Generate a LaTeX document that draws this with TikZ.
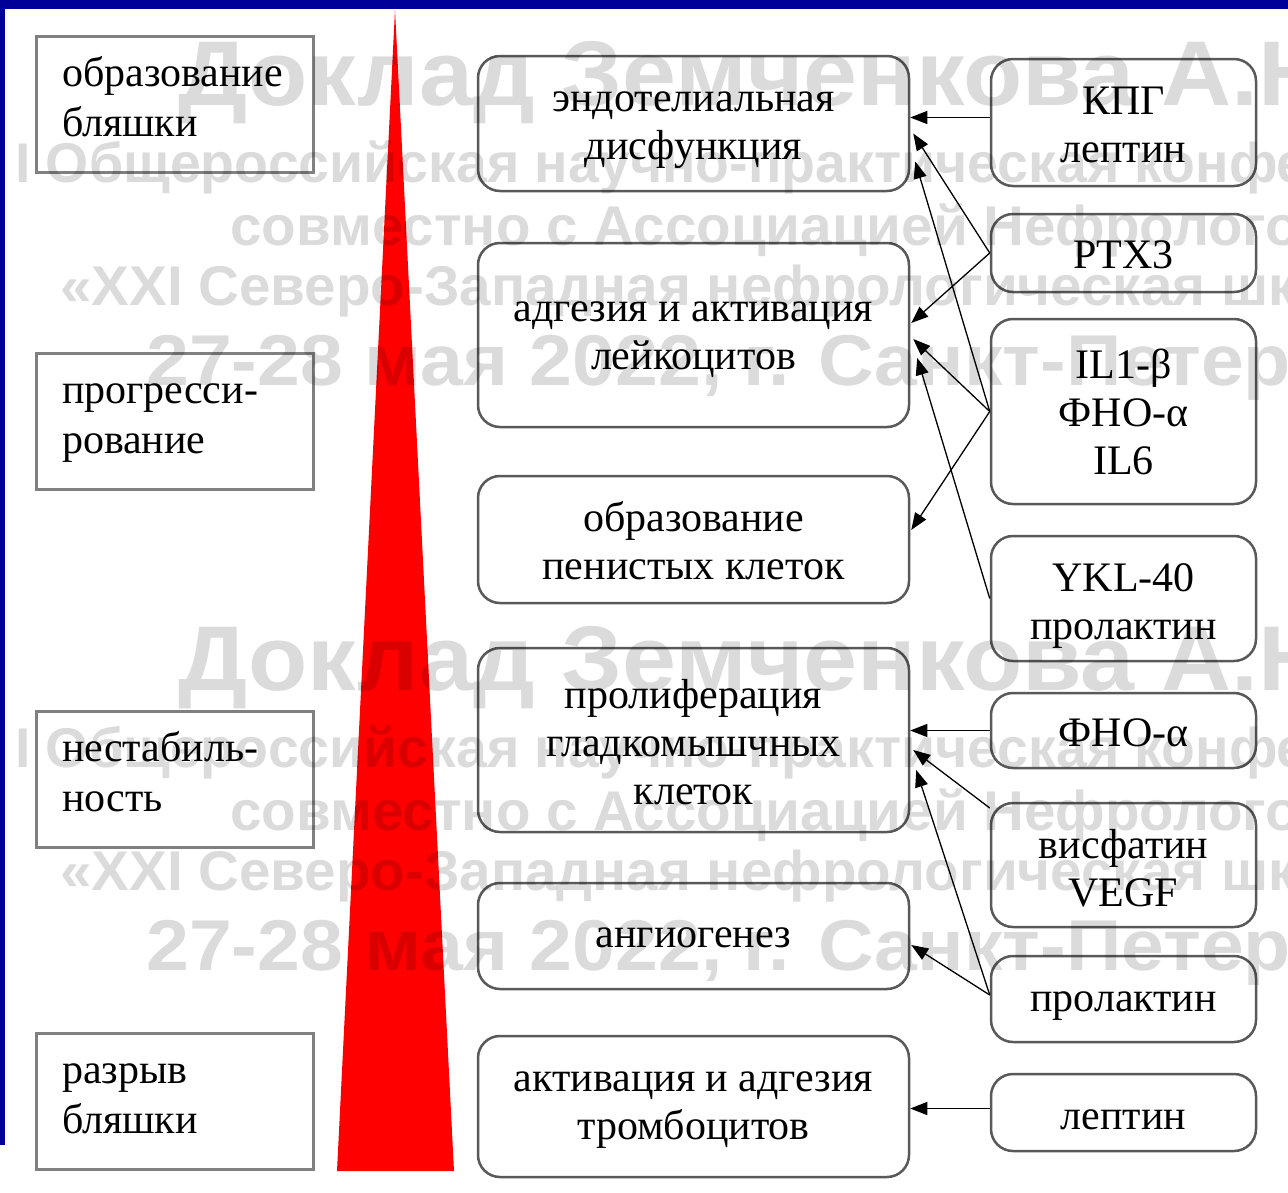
\documentclass[tikz,border=0pt]{standalone}
\usepackage{fontspec}
\setmainfont{Liberation Serif}
\newfontfamily\wmfont{Liberation Sans}
\usetikzlibrary{arrows.meta}
\definecolor{bluebar}{HTML}{000099}
\begin{document}
\begin{tikzpicture}[x=1pt,y=-1pt,
  txt/.style={align=center, inner sep=0pt, font=\fontsize{42}{48}\selectfont},
  ltxt/.style={align=left, text width=226pt, inner sep=0pt, font=\fontsize{42}{50}\selectfont},
  lbox/.style={draw=black!50, line width=3pt, fill=white, minimum width=277pt,
    minimum height=136pt, inner sep=0pt},
  mbox/.style={draw=black!65, line width=2.5pt, fill=white, rounded corners=22pt,
    minimum width=431pt, inner sep=0pt},
  rbox/.style={draw=black!65, line width=2.5pt, fill=white, rounded corners=22pt,
    minimum width=265pt, inner sep=0pt},
  arr/.style={-{Triangle[length=17pt,width=13pt]}, line width=1.3pt, black},
  wm/.style={anchor=base west, inner sep=0pt, opacity=0.14, text=black}]
\useasboundingbox (0,0) rectangle (1288,1192);
\clip (0,0) rectangle (1288,1192);
\fill[white] (0,0) rectangle (1288,1192);
\fill[bluebar] (0,0) rectangle (1288,9);
\fill[bluebar] (0,0) rectangle (5,1145);
% red wedge
\fill[red] (337,1171) -- (395,10) -- (454,1171) -- cycle;
% left stage boxes
\node[lbox] (l1) at (175,104) {};
\node[lbox] (l2) at (175,421.5) {};
\node[lbox] (l3) at (175,779) {};
\node[lbox] (l4) at (175,1101) {};
\node[ltxt] (l1t) at ([yshift=7pt]l1.center) {образование\\бляшки};
\node[ltxt] (l2t) at ([yshift=-2pt]l2.center) {прогресси-\\рование};
\node[ltxt] (l3t) at ([yshift=7pt]l3.center) {нестабиль-\\ность};
\node[ltxt] (l4t) at ([yshift=2pt]l4.center) {разрыв\\бляшки};
% middle process boxes
\node[mbox, minimum height=135pt] (m1) at (693.5,123.5) {};
\node[mbox, minimum height=184pt] (m2) at (693.5,335) {};
\node[mbox, minimum height=127pt] (m3) at (693.5,539.5) {};
\node[mbox, minimum height=184pt] (m4) at (693.5,740) {};
\node[mbox, minimum height=106pt] (m5) at (693.5,936) {};
\node[mbox, minimum height=141pt] (m6) at (693.5,1106.5) {};
\node[txt] (m1t) at ([yshift=-7pt]m1.center) {эндотелиальная\\дисфункция};
\node[txt] (m2t) at ([yshift=-5pt]m2.center) {адгезия и активация\\лейкоцитов};
\node[txt] (m3t) at ([yshift=-1pt]m3.center) {образование\\пенистых клеток};
\node[txt] (m4t) at ([yshift=-2pt]m4.center) {пролиферация\\гладкомышчных\\клеток};
\node[txt] (m5t) at ([yshift=-2pt]m5.center) {ангиогенез};
\node[txt] (m6t) at ([yshift=-4pt]m6.center) {активация и адгезия\\тромбоцитов};
% right factor boxes
\node[rbox, minimum height=127pt] (r1) at (1123.5,122.5) {};
\node[rbox, minimum height=78pt] (r2) at (1123.5,253) {};
\node[rbox, minimum height=185pt] (r3) at (1123.5,411.5) {};
\node[rbox, minimum height=125pt] (r4) at (1123.5,598.5) {};
\node[rbox, minimum height=75pt] (r5) at (1123.5,730.5) {};
\node[rbox, minimum height=124pt] (r6) at (1123.5,865) {};
\node[rbox, minimum height=86pt] (r7) at (1123.5,999) {};
\node[rbox, minimum height=77pt] (r8) at (1123.5,1112.5) {};
\node[txt] (r1t) at ([yshift=-2.5pt]r1.center) {КПГ\\лептин};
\node[txt] (r2t) at ([yshift=-2pt]r2.center) {PTX3};
\node[txt] (r3t) at (r3.center) {IL1-β\\ФНО-α\\IL6};
\node[txt] (r4t) at ([yshift=-7pt]r4.center) {YKL-40\\пролактин};
\node[txt] (r5t) at ([yshift=-2pt]r5.center) {ФНО-α};
\node[txt] (r6t) at ([yshift=-3pt]r6.center) {висфатин\\VEGF};
\node[txt] (r7t) at ([yshift=-7pt]r7.center) {пролактин};
\node[txt] (r8t) at ([yshift=-7pt]r8.center) {лептин};
% connectors
\draw[arr] ([yshift=5pt]r1.west) -- ([yshift=5pt]r1.west -| m1.east);
\draw[arr] (r2.west) -- ([xshift=3pt,yshift=-10pt]m1.east);
\draw[arr] (r3.west) -- ([xshift=5pt,yshift=-38pt]m1.east);
\draw[arr] (r2.west) -- ([xshift=1pt,yshift=12pt]m2.east);
\draw[arr] (r3.west) -- ([xshift=3pt,yshift=-4pt]m2.east);
\draw[arr] (r4.west) -- ([xshift=7pt,yshift=-23pt]m2.east);
\draw[arr] (r3.west) -- ([xshift=1pt,yshift=9.5pt]m3.east);
\draw[arr] (r5.west) -- (r5.west -| m4.east);
\draw[arr] ([yshift=57pt]r6.west) -- ([xshift=3pt,yshift=-10pt]m4.east);
\draw[arr] ([yshift=4pt]r7.west) -- ([xshift=6pt,yshift=-30pt]m4.east);
\draw[arr] ([yshift=4pt]r7.west) -- ([xshift=1pt,yshift=-9pt]m5.east);
\draw[arr] ([yshift=4pt]r8.west) -- ([yshift=4pt]r8.west -| m6.east);
% watermark
\foreach \dy/\k in {0/a,585/b}{
  \node[wm, font=\wmfont\bfseries\fontsize{92}{92}\selectfont] (wm1\k) at (178,105+\dy) {\scalebox{1.055}[1]{Доклад Земченкова А.Ю.}};
  \node[wm, font=\wmfont\bfseries\fontsize{56}{56}\selectfont] (wm2\k) at (15,182+\dy) {\scalebox{0.99}[1]{I Общероссийская научно-практическая конференция}};
  \node[wm, font=\wmfont\bfseries\fontsize{56}{56}\selectfont] (wm3\k) at (230,245+\dy) {\scalebox{1.01}[1]{совместно с Ассоциацией Нефрологов}};
  \node[wm, font=\wmfont\bfseries\fontsize{56}{56}\selectfont] (wm4\k) at (60,305+\dy) {\scalebox{1.01}[1]{«XXI Северо-Западная нефрологическая школа»}};
  \node[wm, font=\wmfont\bfseries\fontsize{72}{72}\selectfont] (wm5\k) at (146,385+\dy) {\scalebox{1.07}[1]{27-28 мая 2022, г. Санкт-Петербург}};
}
\end{tikzpicture}
\end{document}
